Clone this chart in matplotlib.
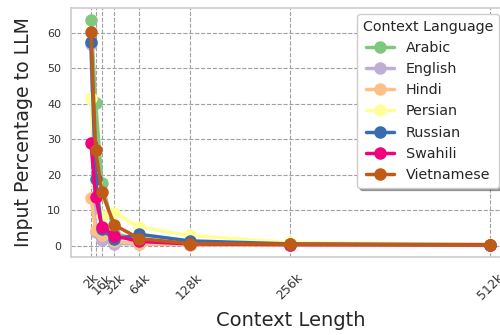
import matplotlib
matplotlib.use("Agg")
import matplotlib.pyplot as plt
import seaborn as sns

# Context lengths (in thousands of tokens) and their tick labels
context_k = [2, 8, 16, 32, 64, 128, 256, 512]
tick_labels = ["2k", "", "16k", "32k", "64k", "128k", "256k", "512k"]

languages = ["Arabic", "English", "Hindi", "Persian", "Russian", "Swahili", "Vietnamese"]

# Share of the input passed to the LLM (%) per context length
arabic = [63.7, 40.3, 17.8, 3.5, 1.5, 0.6, 0.3, 0.2]
english = [56.8, 3.8, 1.5, 0.6, 0.5, 0.3, 0.2, 0.1]
hindi = [13.5, 4.4, 3.0, 1.2, 0.6, 0.3, 0.2, 0.1]
persian = [41.7, 18.0, 8.5, 9.3, 5.2, 2.9, 0.9, 0.4]
russian = [57.4, 18.7, 4.6, 1.8, 3.2, 1.35, 0.5, 0.3]
swahili = [29.0, 13.7, 5.3, 2.8, 1.2, 0.5, 0.3, 0.2]
vietnamese = [60.2, 26.9, 15.0, 5.8, 2.0, 0.6, 0.4, 0.2]

series = [arabic, english, hindi, persian, russian, swahili, vietnamese]

sns.set_style("whitegrid", {"grid.linestyle": "--", "grid.color": "#a0a0a0",
                            "axes.edgecolor": "#cccccc"})
plt.rcParams["font.family"] = ["DejaVu Sans"]

colors = plt.get_cmap("Accent").colors

fig = plt.figure(figsize=(5.0, 3.35), dpi=100)
ax = fig.add_axes([0.142, 0.234, 0.878, 0.741])

for name, vals, c in zip(languages, series, colors):
    ax.plot(context_k, vals, marker="o", color=c, linewidth=2.5,
            markersize=8, label=name)

ax.set_xticks(context_k)
ax.set_xticklabels(tick_labels, rotation=45, fontsize=9, color="#333333")
ax.tick_params(axis="x", pad=7)
ax.tick_params(axis="y", labelsize=8, labelcolor="#333333")
ax.grid(True, linestyle="--", color="#a0a0a0", linewidth=0.8)
for s in ax.spines.values():
    s.set_color("#cccccc")
    s.set_linewidth(1.2)

ax.set_xlabel("Context Length", fontsize=14, color="#262626", labelpad=6)
ax.set_ylabel("Input Percentage to LLM", fontsize=13.6, color="#262626",
              labelpad=10)

leg = fig.legend(loc="upper left", bbox_to_anchor=(350 / 500, 1 - 7 / 335),
                 bbox_transform=fig.transFigure, title="Context Language",
                 fontsize=10.3, title_fontsize=10.3, shadow=True,
                 frameon=True, fancybox=True)
leg.get_frame().set_edgecolor("#cccccc")
leg.get_frame().set_facecolor("white")

fig.savefig("out.png", dpi=100)
